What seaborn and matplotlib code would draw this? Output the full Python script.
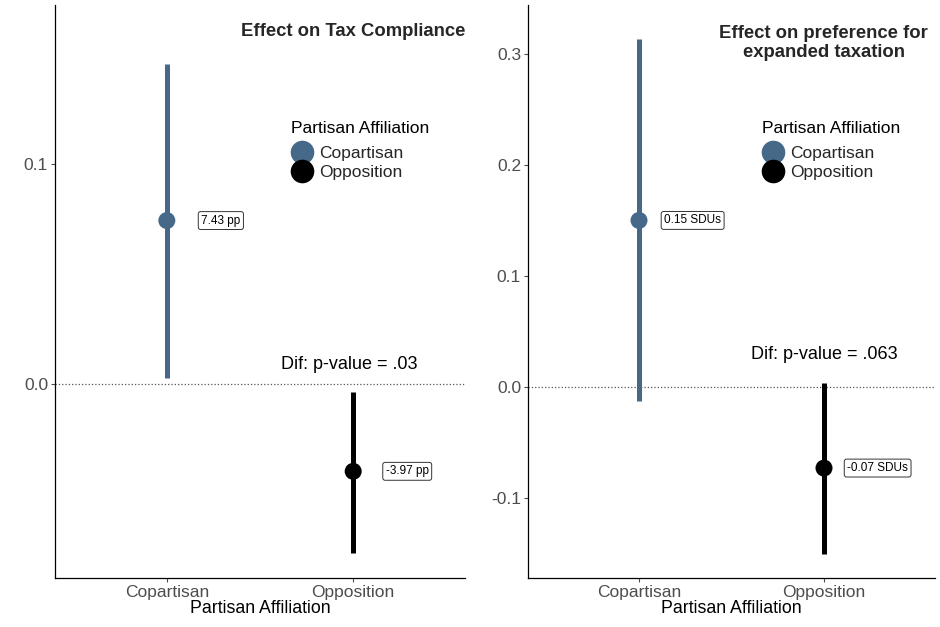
import matplotlib
matplotlib.use("Agg")
import matplotlib.pyplot as plt
from matplotlib.lines import Line2D
import pandas as pd
import seaborn as sns

sns.set_style("white")
plt.rcParams['font.family'] = ['Liberation Sans', 'DejaVu Sans']

# groups and colours
groups = ['Copartisan', 'Opposition']
group_colors = {'Copartisan': '#46698A', 'Opposition': '#000000'}

# panel 1: tax compliance (proportion)
tax_est = [0.0743, -0.0397]
tax_low = [0.0027, -0.0768]
tax_high = [0.1455, -0.0036]
tax_labels = ['7.43 pp', '-3.97 pp']

# panel 2: preference for expanded taxation (SDUs)
pref_est = [0.150, -0.073]
pref_low = [-0.0127, -0.150]
pref_high = [0.313, 0.0036]
pref_labels = ['0.15 SDUs', '-0.07 SDUs']

panels = [
    dict(est=tax_est, low=tax_low, high=tax_high, labels=tax_labels,
         title='Effect on Tax Compliance', pval='Dif: p-value = .03',
         ylim=(-0.0882, 0.1723), yticks=[0.0, 0.1], pval_xy=(0.98, 0.009),
         rect=[55 / 940, 49 / 627, 410 / 940, 573 / 627]),
    dict(est=pref_est, low=pref_low, high=pref_high, labels=pref_labels,
         title='Effect on preference for\nexpanded taxation', pval='Dif: p-value = .063',
         ylim=(-0.172, 0.344), yticks=[-0.1, 0.0, 0.1, 0.2, 0.3], pval_xy=(1.0, 0.029),
         rect=[528 / 940, 49 / 627, 407 / 940, 573 / 627]),
]

fig = plt.figure(figsize=(9.4, 6.27), dpi=100)

for i, p in enumerate(panels):
    ax = fig.add_axes(p['rect'])
    df = pd.DataFrame({'group': groups, 'est': p['est'], 'low': p['low'], 'high': p['high']})

    ax.axhline(0, color='#555555', linestyle=':', linewidth=0.9, zorder=0)

    # confidence intervals
    for _, row in df.iterrows():
        ax.vlines(row['group'], row['low'], row['high'], color=group_colors[row['group']],
                  linewidth=3.6, zorder=2)

    sns.scatterplot(data=df, x='group', y='est', hue='group', palette=group_colors,
                    s=150, edgecolor='none', legend=False, ax=ax, zorder=3)

    # value labels
    for j, (val, lab) in enumerate(zip(p['est'], p['labels'])):
        ax.text(j + 0.29, val, lab, ha='center', va='center', fontsize=8.5, color='black',
                bbox=dict(boxstyle='round,pad=0.25,rounding_size=0.2', fc='white',
                          ec='#333333', lw=0.7))

    ax.text(p['pval_xy'][0], p['pval_xy'][1], p['pval'], ha='center', va='center',
            fontsize=13, color='black')

    ax.set_xlim(-0.6, 1.6)
    ax.set_ylim(*p['ylim'])
    ax.set_yticks(p['yticks'])
    ax.set_yticklabels([f'{t:.1f}' for t in p['yticks']])
    ax.set_xlabel('Partisan Affiliation', fontsize=12.8, color='black', labelpad=0)
    ax.set_ylabel('')
    ax.tick_params(axis='both', labelsize=12.5, colors='#4D4D4D', length=3, width=0.8,
                   direction='out', pad=2, left=True, bottom=True)
    for side in ['top', 'right']:
        ax.spines[side].set_visible(False)
    for side in ['left', 'bottom']:
        ax.spines[side].set_color('black')
        ax.spines[side].set_linewidth(0.9)

    if i == 0:
        ax.text(1.0, 0.953, p['title'], transform=ax.transAxes, ha='right', va='center',
                fontsize=13.3, fontweight='bold')
    else:
        ax.text(0.727, 0.934, p['title'], transform=ax.transAxes, ha='center', va='center',
                fontsize=13.3, fontweight='bold', linespacing=1.2)

    # legend: title as text, entries as a legend below it
    ax.text(0.576, 0.785, 'Partisan Affiliation', transform=ax.transAxes, ha='left',
            va='center', fontsize=12.5, color='black')
    handles = [Line2D([0], [0], marker='o', linestyle='', markersize=17,
                      markerfacecolor=group_colors[g], markeredgecolor='none', label=g)
               for g in groups]
    ax.legend(handles=handles, loc='upper left', bbox_to_anchor=(0.568, 0.754),
              frameon=False, fontsize=12.5, labelspacing=0.2, handletextpad=0.2,
              handlelength=1.6, borderpad=0, borderaxespad=0)

plt.savefig('out.png', dpi=100)
